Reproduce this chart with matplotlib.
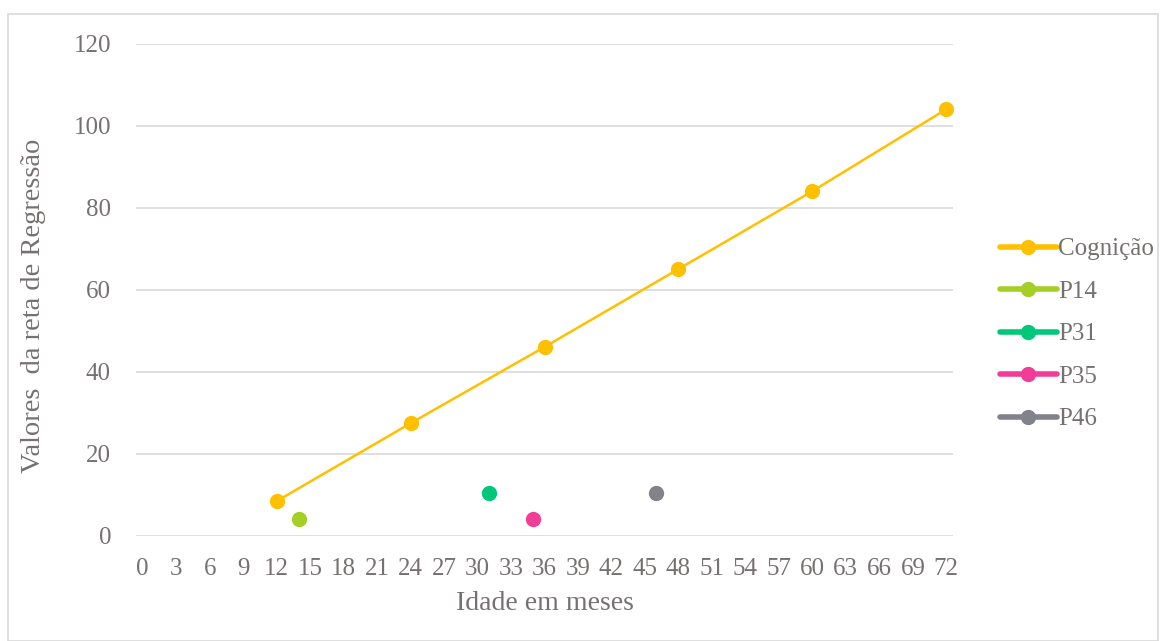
import matplotlib.pyplot as plt
from matplotlib.lines import Line2D
from matplotlib.patches import Rectangle

# regression line (Cognição) values
cog_x = [12, 24, 36, 48, 60, 72]
cog_y = [8.5, 27.5, 46.1, 65.1, 84.1, 104.1]

# individual participants
part_names = ['P14', 'P31', 'P35', 'P46']
part_x = [14, 31, 35, 46]
part_y = [4.1, 10.4, 4.1, 10.4]

x_ticks = list(range(0, 73, 3))
y_ticks = [0, 20, 40, 60, 80, 100, 120]

colors = {'Cognição': '#FFC000', 'P14': '#A5CF27', 'P31': '#00C878',
          'P35': '#F03E96', 'P46': '#82828A'}

plt.rcParams['font.family'] = ['Liberation Serif', 'DejaVu Serif']
txt = '#767171'

fig = plt.figure(figsize=(11.63, 6.41), dpi=100)
ax = fig.add_axes([136 / 1163, 1 - 536 / 641, (953 - 136) / 1163, (536 - 44) / 641])

ax.plot(cog_x, cog_y, color=colors['Cognição'], lw=1.8, marker='o', ms=10, zorder=3)
for name, x, y in zip(part_names, part_x, part_y):
    ax.plot([x], [y], color=colors[name], marker='o', ms=10, ls='none', zorder=3)

ax.set_xlim(-0.6, 72.6)
ax.set_ylim(0, 120)
ax.set_xticks(x_ticks)
ax.set_yticks(y_ticks)
ax.tick_params(length=0, labelsize=18, labelcolor=txt)
ax.tick_params(axis='x', pad=16)
ax.tick_params(axis='y', pad=18)
ax.grid(axis='y', color='#D9D9D9', lw=1.2)
ax.set_axisbelow(True)
for s in ax.spines.values():
    s.set_visible(False)

ax.set_xlabel('Idade em meses', fontsize=20, color=txt, labelpad=8)
ax.set_ylabel('Valores  da reta de Regressão', fontsize=20.5, color=txt)
ax.yaxis.set_label_coords(-0.11, 0.4675)

handles = [Line2D([], [], color=colors[n], lw=4, marker='o', ms=10, solid_capstyle='round')
           for n in ['Cognição'] + part_names]
leg = fig.legend(handles, ['Cognição'] + part_names, loc='center left',
                 bbox_to_anchor=(987 / 1163, 1 - 334 / 641), frameon=False,
                 fontsize=18, labelcolor=txt, handlelength=2.3, handletextpad=0.05,
                 labelspacing=0.8, borderpad=0)

fig.patches.append(Rectangle((8 / 1163, 0), 1150 / 1163, 1 - 14 / 641,
                             transform=fig.transFigure, fill=False,
                             edgecolor='#D9D9D9', lw=1.2))

fig.savefig('out.png', dpi=100)
